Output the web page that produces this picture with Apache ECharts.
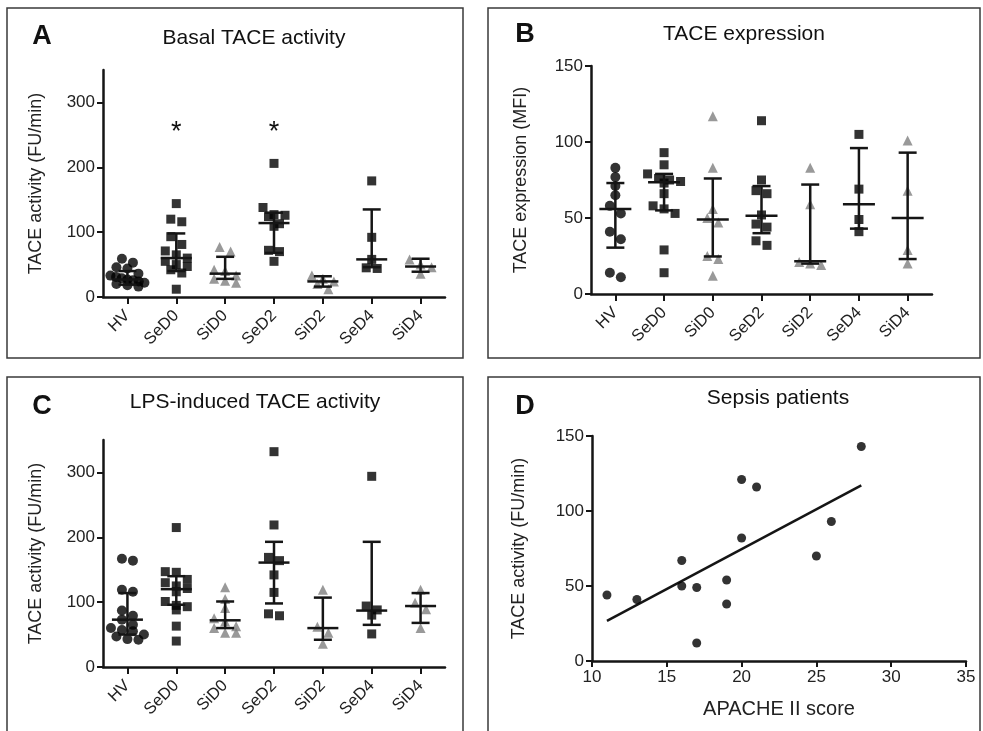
<!DOCTYPE html>
<html>
<head>
<meta charset="utf-8">
<script src="https://cdn.jsdelivr.net/npm/echarts@6/dist/echarts.min.js"></script>
<style>
html,body{margin:0;padding:0;background:#fff;}
#c{width:983px;height:731px;}
</style>
</head>
<body>
<div id="c"></div>
<script>
// ---------------- DATA ----------------
const categories = ['HV', 'SeD0', 'SiD0', 'SeD2', 'SiD2', 'SeD4', 'SiD4'];

// Panel A: Basal TACE activity (FU/min)
const basalHV   = [59, 53, 46, 44, 36, 33, 31, 29, 27, 26, 24, 22, 20, 18, 16];
const basalSeD0 = [144, 120, 116, 93, 81, 71, 65, 60, 55, 50, 47, 42, 37, 12];
const basalSiD0 = [77, 70, 42, 40, 33, 28, 25, 22];
const basalSeD2 = [206, 138, 127, 126, 124, 113, 109, 72, 70, 55];
const basalSiD2 = [33, 28, 24, 20, 12];
const basalSeD4 = [179, 92, 58, 45, 44];
const basalSiD4 = [58, 50, 46, 36];
const basalMedian = [27, 60, 36, 114, 24, 58, 47];
const basalQ1     = [19, 40, 28, 68, 16, 46, 39];
const basalQ3     = [40, 98, 62, 130, 32, 135, 59];
const basalStarCats  = [1, 3];
const basalStarLevel = [263, 263];

// Panel B: TACE expression (MFI)
const exprHV   = [83, 77, 71, 65, 58, 53, 41, 36, 14, 11];
const exprSeD0 = [93, 85, 79, 76, 75, 74, 73, 66, 58, 56, 53, 29, 14];
const exprSiD0 = [117, 83, 56, 50, 47, 25, 23, 12];
const exprSeD2 = [114, 75, 68, 66, 52, 46, 44, 35, 32];
const exprSiD2 = [83, 59, 21, 20, 19];
const exprSeD4 = [105, 69, 49, 41];
const exprSiD4 = [101, 68, 29, 20];
const exprMedian = [56, 73.5, 49, 51.5, 21.5, 59, 50];
const exprQ1     = [30.5, 55, 24.7, 40, 20, 43, 23];
const exprQ3     = [73, 79, 76, 71, 72, 96, 93];

// Panel C: LPS-induced TACE activity (FU/min)
const lpsHV   = [167, 164, 119, 116, 87, 79, 73, 65, 60, 57, 55, 50, 47, 43, 42];
const lpsSeD0 = [215, 147, 146, 135, 130, 125, 121, 116, 101, 95, 93, 88, 63, 40];
const lpsSiD0 = [123, 105, 91, 75, 70, 63, 60, 53, 53];
const lpsSeD2 = [332, 219, 169, 164, 142, 115, 82, 79];
const lpsSiD2 = [119, 62, 53, 36];
const lpsSeD4 = [294, 94, 88, 80, 51];
const lpsSiD4 = [119, 99, 89, 60];
const lpsMedian = [73, 120, 72, 161, 60, 87, 94];
const lpsQ1     = [50, 96, 60, 98, 42, 65, 68];
const lpsQ3     = [114, 140, 101, 193, 107, 193, 114];

// Panel D: Sepsis patients
const apacheScore = [11, 13, 16, 16, 17, 17, 19, 19, 20, 20, 21, 25, 26, 28];
const sepsisTACE  = [44, 41, 67, 50, 49, 12, 54, 38, 121, 82, 116, 70, 93, 143];

// Tick labels
const yTicksAC = [0, 100, 200, 300];
const yTicksB  = [0, 50, 100, 150];
const yTicksD  = [0, 50, 100, 150];
const xTicksD  = [10, 15, 20, 25, 30, 35];

// ---------------- LAYOUT / STYLE ----------------
const FONT = '"Liberation Sans", Arial, Helvetica, sans-serif';
const INK = '#151515';
const GRAY = '#808080';
const grids = [
  {left: 103, top: 70, width: 342, height: 227},
  {left: 591, top: 66, width: 341, height: 228},
  {left: 103, top: 440, width: 342, height: 227},
  {left: 592, top: 436, width: 374, height: 225}
];
const yMax = [350, 150, 350];

function swarm(values, idx, gi) {
  const pxPerUnit = grids[gi].height / yMax[gi];
  const pxPerCat = grids[gi].width / categories.length;
  const ROW_PX = 8, SPACING = 11, MAXW = 34;
  const sorted = values.slice().sort((a, b) => b - a);
  const rows = [];
  let row = [];
  sorted.forEach(v => {
    if (row.length && (row[0] - v) * pxPerUnit > ROW_PX) { rows.push(row); row = []; }
    row.push(v);
  });
  if (row.length) rows.push(row);
  const out = [];
  rows.forEach(r => {
    const n = r.length;
    const sp = n > 1 ? Math.min(SPACING, MAXW / (n - 1)) : 0;
    r.forEach((v, i) => out.push([idx + (i - (n - 1) / 2) * sp / pxPerCat, v]));
  });
  return out;
}

function catAxis(gi) {
  return {
    type: 'category', gridIndex: gi, data: categories, boundaryGap: true, position: 'bottom',
    axisLine: {show: true, onZero: false, lineStyle: {color: INK, width: 2.5}},
    axisTick: {show: true, alignWithLabel: true, interval: 0, length: 7, lineStyle: {color: INK, width: 2}},
    axisLabel: {rotate: 45, interval: 0, fontSize: 16.5, color: '#222', margin: 16, fontFamily: FONT},
    splitLine: {show: false}
  };
}
function hiddenX(gi) {
  return {type: 'value', gridIndex: gi, min: -0.5, max: 6.5, show: false, position: 'top'};
}
function yAx(gi, max, ticks, name, gap) {
  return {
    type: 'value', gridIndex: gi, min: 0, max: max,
    name: name, nameLocation: 'middle', nameGap: gap, nameMoveOverlap: false,
    nameTextStyle: {fontSize: 18, color: '#222', fontFamily: FONT},
    axisLine: {show: true, onZero: false, lineStyle: {color: INK, width: 2.5}},
    axisTick: {show: true, length: 6, customValues: ticks, lineStyle: {color: INK, width: 2}},
    axisLabel: {customValues: ticks, fontSize: 17, color: '#222', margin: 8, fontFamily: FONT},
    splitLine: {show: false}
  };
}

function groupSeries(groups, xAxisIndex, yAxisIndex, gi) {
  return groups.map((vals, i) => {
    const name = categories[i];
    const isHV = name === 'HV';
    const isSi = name.indexOf('Si') === 0;
    return {
      type: 'scatter', xAxisIndex, yAxisIndex, z: 2,
      symbol: isHV ? 'circle' : (isSi ? 'triangle' : 'rect'),
      symbolSize: isHV ? 10 : (isSi ? 10 : 9),
      itemStyle: {color: isSi ? GRAY : '#000'},
      data: swarm(vals, i, gi),
      silent: true
    };
  });
}

function errSeries(median, q1, q3, xAxisIndex, yAxisIndex, medHW, capHW) {
  return {
    type: 'custom', xAxisIndex, yAxisIndex, z: 5, silent: true,
    data: median.map((m, i) => [i, m, q1[i], q3[i]]),
    encode: {x: 0, y: [1, 2, 3]},
    renderItem: function (params, api) {
      const x = api.value(0);
      const pm = api.coord([x, api.value(1)]);
      const pl = api.coord([x, api.value(2)]);
      const ph = api.coord([x, api.value(3)]);
      const st = {stroke: INK, lineWidth: 2.5};
      return {
        type: 'group',
        children: [
          {type: 'line', shape: {x1: pl[0], y1: pl[1], x2: ph[0], y2: ph[1]}, style: st},
          {type: 'line', shape: {x1: pm[0] - medHW, y1: pm[1], x2: pm[0] + medHW, y2: pm[1]}, style: st},
          {type: 'line', shape: {x1: pl[0] - capHW, y1: pl[1], x2: pl[0] + capHW, y2: pl[1]}, style: st},
          {type: 'line', shape: {x1: ph[0] - capHW, y1: ph[1], x2: ph[0] + capHW, y2: ph[1]}, style: st}
        ]
      };
    }
  };
}

// linear regression for panel D
function linFit(xs, ys) {
  const n = xs.length;
  const mx = xs.reduce((a, b) => a + b, 0) / n;
  const my = ys.reduce((a, b) => a + b, 0) / n;
  let sxy = 0, sxx = 0;
  for (let i = 0; i < n; i++) { sxy += (xs[i] - mx) * (ys[i] - my); sxx += (xs[i] - mx) * (xs[i] - mx); }
  const b = sxy / sxx, a = my - b * mx;
  const x0 = Math.min(...xs), x1 = Math.max(...xs);
  return [[x0, a + b * x0], [x1, a + b * x1]];
}

const chart = echarts.init(document.getElementById('c'), null, {renderer: 'canvas'});

const series = [].concat(
  groupSeries([basalHV, basalSeD0, basalSiD0, basalSeD2, basalSiD2, basalSeD4, basalSiD4], 1, 0, 0),
  [errSeries(basalMedian, basalQ1, basalQ3, 1, 0, 15.5, 9)],
  [{
    type: 'custom', xAxisIndex: 1, yAxisIndex: 0, silent: true, z: 6,
    data: basalStarCats.map((c, i) => [c, basalStarLevel[i]]),
    encode: {x: 0, y: 1},
    renderItem: function (params, api) {
      const p = api.coord([api.value(0), api.value(1)]);
      return {
        type: 'text', x: p[0], y: p[1] + 6,
        style: {text: '*', fontSize: 27, fontFamily: FONT, fill: '#111', align: 'center', verticalAlign: 'middle'}
      };
    }
  }],
  groupSeries([exprHV, exprSeD0, exprSiD0, exprSeD2, exprSiD2, exprSeD4, exprSiD4], 3, 1, 1),
  [errSeries(exprMedian, exprQ1, exprQ3, 3, 1, 16, 9)],
  groupSeries([lpsHV, lpsSeD0, lpsSiD0, lpsSeD2, lpsSiD2, lpsSeD4, lpsSiD4], 5, 2, 2),
  [errSeries(lpsMedian, lpsQ1, lpsQ3, 5, 2, 15.5, 9)],
  [{
    type: 'scatter', xAxisIndex: 6, yAxisIndex: 3, silent: true, z: 3,
    symbol: 'circle', symbolSize: 9, itemStyle: {color: '#000'},
    data: apacheScore.map((x, i) => [x, sepsisTACE[i]])
  }, {
    type: 'line', xAxisIndex: 6, yAxisIndex: 3, silent: true, z: 2,
    showSymbol: false, symbol: 'none',
    lineStyle: {color: INK, width: 2.5},
    data: linFit(apacheScore, sepsisTACE)
  }]
);

const txt = (x, y, text, size, weight) => ({
  type: 'text', x: x, y: y, silent: true,
  style: {text: text, fontSize: size, fontWeight: weight || 'normal', fontFamily: FONT,
          fill: '#111', align: 'center', verticalAlign: 'middle'}
});
const box = (x, y, w, h) => ({
  type: 'rect', silent: true, shape: {x: x, y: y, width: w, height: h},
  style: {fill: 'none', stroke: '#3a3a3a', lineWidth: 1.5}
});

chart.setOption({
  animation: false,
  textStyle: {fontFamily: FONT},
  grid: grids.map(g => Object.assign({containLabel: false, outerBoundsMode: 'none'}, g)),
  xAxis: [
    catAxis(0), hiddenX(0),
    catAxis(1), hiddenX(1),
    catAxis(2), hiddenX(2),
    {
      type: 'value', gridIndex: 3, min: 10, max: 35, interval: 5,
      name: 'APACHE II score', nameLocation: 'middle', nameGap: 38, nameMoveOverlap: false,
      nameTextStyle: {fontSize: 20, color: '#222', fontFamily: FONT},
      axisLine: {show: true, onZero: false, lineStyle: {color: INK, width: 2.5}},
      axisTick: {show: true, length: 6, customValues: xTicksD, lineStyle: {color: INK, width: 2}},
      axisLabel: {customValues: xTicksD, fontSize: 17, color: '#222', margin: 8, fontFamily: FONT},
      splitLine: {show: false}
    }
  ],
  yAxis: [
    yAx(0, 350, yTicksAC, 'TACE activity (FU/min)', 58),
    yAx(1, 150, yTicksB, 'TACE expression (MFI)', 61),
    yAx(2, 350, yTicksAC, 'TACE activity (FU/min)', 58),
    yAx(3, 150, yTicksD, 'TACE activity (FU/min)', 64)
  ],
  series: series,
  graphic: [
    box(7, 8, 456, 350),
    box(488, 8, 492, 350),
    box(7, 377, 456, 360),
    box(488, 377, 492, 360),
    txt(42, 37, 'A', 27, 'bold'),
    txt(525, 35, 'B', 27, 'bold'),
    txt(42, 407, 'C', 27, 'bold'),
    txt(525, 407, 'D', 27, 'bold'),
    txt(254, 38, 'Basal TACE activity', 21),
    txt(744, 34, 'TACE expression', 21),
    txt(255, 402, 'LPS-induced TACE activity', 21),
    txt(778, 398, 'Sepsis patients', 21)
  ]
});
</script>
</body>
</html>
